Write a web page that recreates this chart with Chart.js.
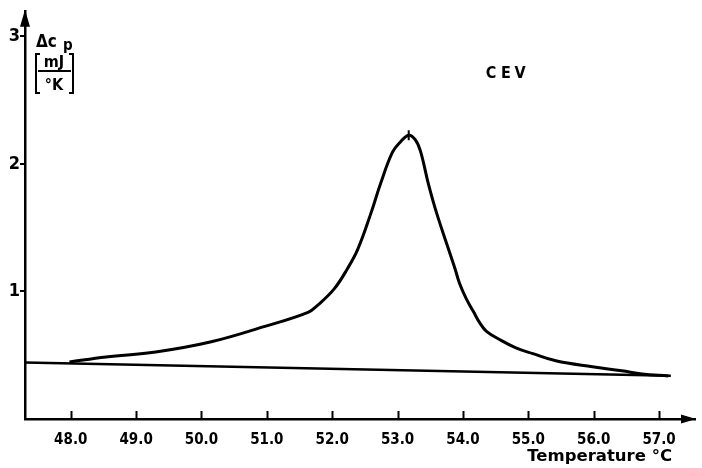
<!DOCTYPE html>
<html>
<head>
<meta charset="utf-8">
<script src="https://cdn.jsdelivr.net/npm/chart.js@4"></script>
<style>
html,body{margin:0;padding:0;background:#fff;}
#c{display:block;}
</style>
</head>
<body>
<canvas id="c" width="702" height="468"></canvas>
<script>
// ---- data ----
const curveTemp = [47.98, 48.54, 49.30, 50.15, 50.97, 51.63, 51.78, 52.03, 52.23, 52.39, 52.59, 52.74, 52.92, 53.04, 53.17, 53.27, 53.35, 53.47, 53.60, 53.80, 53.88, 53.95, 54.05, 54.16, 54.26, 54.36, 54.56, 54.81, 55.07, 55.42, 55.98, 56.43, 56.74, 57.14];
const curveCp   = [0.447, 0.486, 0.525, 0.605, 0.726, 0.836, 0.893, 1.02, 1.176, 1.33, 1.61, 1.846, 2.09, 2.17, 2.225, 2.19, 2.10, 1.846, 1.61, 1.30, 1.176, 1.06, 0.944, 0.842, 0.751, 0.687, 0.623, 0.558, 0.512, 0.456, 0.409, 0.378, 0.353, 0.337];
const baseTemp  = [47.30, 57.18];
const baseCp    = [0.443, 0.340];
const peakTemp  = [53.17];
const peakCp    = [2.225];
const xTickValues = [48, 49, 50, 51, 52, 53, 54, 55, 56, 57];
const xTickLabels = ['48.0','49.0','50.0','51.0','52.0','53.0','54.0','55.0','56.0','57.0'];
const yTickValues = [1, 2, 3];
const yTickLabels = ['1','2','3'];
const seriesLabel = 'CEV';
const xTitle = 'Temperature °C';

const toXY = (xs, ys) => xs.map((x, i) => ({x: x, y: ys[i]}));
const FONT = '"DejaVu Sans Condensed", "DejaVu Sans"';

const decorations = {
  id: 'decorations',
  afterDraw(chart) {
    const ctx = chart.ctx;
    const xs = chart.scales.x, ys = chart.scales.y;
    const a = chart.chartArea;
    const y0 = ys.getPixelForValue(0);
    const xl = xs.left;
    ctx.save();
    ctx.strokeStyle = '#000';
    ctx.fillStyle = '#000';
    // inward x ticks
    ctx.lineWidth = 2;
    xTickValues.forEach(v => {
      const px = Math.round(xs.getPixelForValue(v)) + 0.5;
      ctx.beginPath(); ctx.moveTo(px, y0); ctx.lineTo(px, y0 - 8); ctx.stroke();
    });
    // arrows
    ctx.beginPath();
    ctx.moveTo(xl, a.top - 1); ctx.lineTo(xl - 5, a.top + 16); ctx.lineTo(xl + 5, a.top + 16); ctx.closePath(); ctx.fill();
    ctx.beginPath();
    ctx.moveTo(a.right + 1, y0); ctx.lineTo(a.right - 14, y0 - 4.5); ctx.lineTo(a.right - 14, y0 + 4.5); ctx.closePath(); ctx.fill();
    // y title
    ctx.textBaseline = 'alphabetic';
    ctx.textAlign = 'left';
    ctx.font = 'bold 17px ' + FONT;
    ctx.fillText('\u0394c', 36, 47);
    ctx.font = 'bold 15px ' + FONT;
    ctx.fillText('p', 63, 50);
    ctx.font = 'bold 16px ' + FONT;
    ctx.textAlign = 'center';
    ctx.fillText('mJ', 54, 67);
    ctx.fillText('°K', 54, 90);
    ctx.lineWidth = 2;
    ctx.beginPath(); ctx.moveTo(38, 71); ctx.lineTo(71, 71); ctx.stroke();
    ctx.beginPath(); ctx.moveTo(40, 54); ctx.lineTo(36, 54); ctx.lineTo(36, 93); ctx.lineTo(40, 93); ctx.stroke();
    ctx.beginPath(); ctx.moveTo(69, 54); ctx.lineTo(73, 54); ctx.lineTo(73, 93); ctx.lineTo(69, 93); ctx.stroke();
    // series label
    ctx.font = 'bold 16px ' + FONT;
    ctx.textBaseline = 'middle';
    const cx = [491, 506, 520];
    seriesLabel.split('').forEach((ch, i) => ctx.fillText(ch, cx[i], 74));
    // x title
    ctx.textAlign = 'right';
    ctx.font = 'bold 16.5px "DejaVu Sans"';
    ctx.fillText(xTitle, 672, 457);
    ctx.restore();
  }
};

new Chart(document.getElementById('c'), {
  type: 'scatter',
  data: {
    datasets: [
      { data: toXY(curveTemp, curveCp), showLine: true, borderColor: '#000', borderWidth: 3, pointRadius: 0, tension: 0.4, fill: false },
      { data: toXY(baseTemp, baseCp), showLine: true, borderColor: '#000', borderWidth: 2.5, pointRadius: 0, fill: false },
      { data: toXY(peakTemp, peakCp), showLine: false, pointStyle: 'line', rotation: 90, radius: 5, borderColor: '#000', borderWidth: 2, backgroundColor: '#000' }
    ]
  },
  options: {
    responsive: false,
    animation: false,
    layout: { padding: { left: 0, right: 2, top: 5, bottom: 0 } },
    plugins: { legend: { display: false }, tooltip: { enabled: false } },
    scales: {
      x: {
        type: 'linear', min: 47.30, max: 57.55,
        afterBuildTicks: s => { s.ticks = xTickValues.map(v => ({ value: v })); },
        afterFit: s => { s.height = 49; },
        grid: { display: false, drawOnChartArea: false, drawTicks: false },
        border: { display: true, color: '#000', width: 2.5 },
        ticks: { color: '#000', padding: 12, maxRotation: 0, autoSkip: false,
          font: { family: FONT, weight: 'bold', size: 15 },
          callback: (v) => { const i = xTickValues.indexOf(v); return i >= 0 ? xTickLabels[i] : ''; } }
      },
      y: {
        type: 'linear', min: 0, max: 3.2,
        afterBuildTicks: s => { s.ticks = yTickValues.map(v => ({ value: v })); },
        afterFit: s => { s.width = 25; },
        grid: { display: true, drawOnChartArea: false, drawTicks: true, tickLength: 5, color: '#000', lineWidth: 2 },
        border: { display: true, color: '#000', width: 2.5 },
        ticks: { color: '#000', padding: 0,
          font: { family: FONT, weight: 'bold', size: 18 },
          callback: (v) => { const i = yTickValues.indexOf(v); return i >= 0 ? yTickLabels[i] : ''; } }
      }
    }
  },
  plugins: [decorations]
});
</script>
</body>
</html>
